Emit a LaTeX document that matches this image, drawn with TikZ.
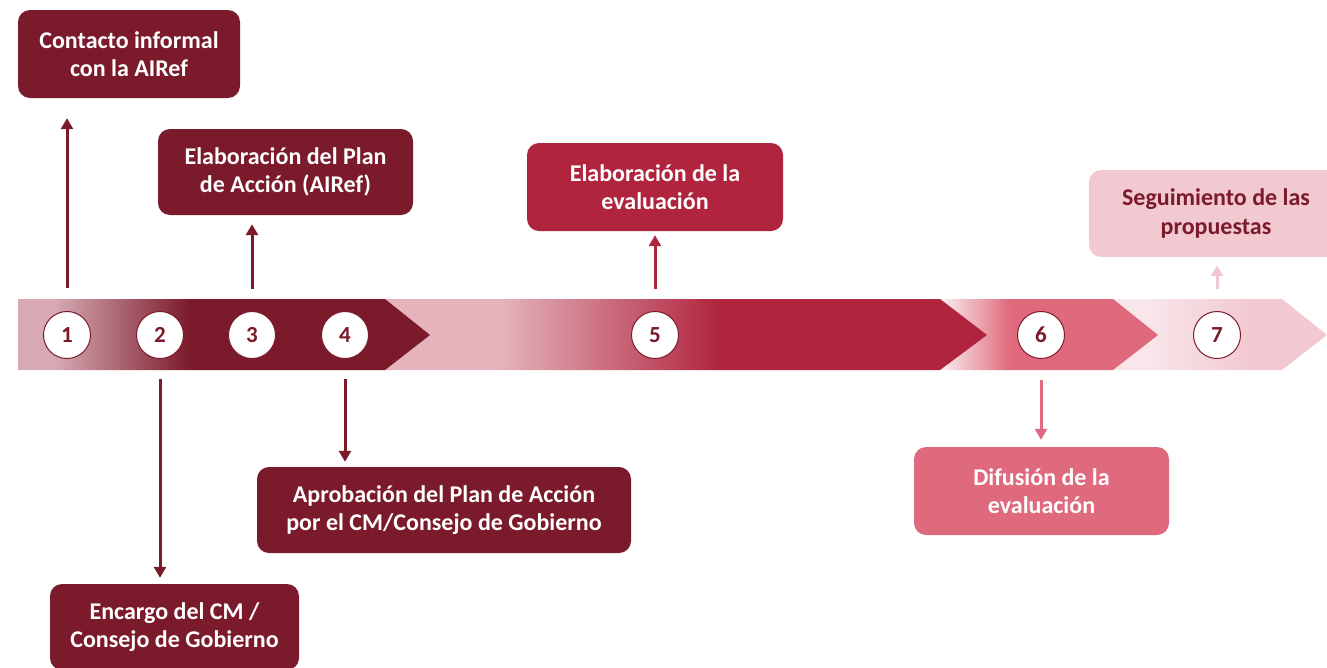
\documentclass[tikz,border=0pt]{standalone}
\usepackage{fontspec}
\setmainfont{Carlito}
\usetikzlibrary{arrows.meta}
\definecolor{dark}{HTML}{7B1A2B}
\definecolor{crim}{HTML}{B0243E}
\definecolor{rose}{HTML}{DF6A7D}
\definecolor{blush}{HTML}{F2C9D1}
\definecolor{pale1}{HTML}{D6A9B3}
\definecolor{pale2}{HTML}{E4B3BC}
\definecolor{pale4}{HTML}{F8E6EA}
\pgfdeclarehorizontalshading{segone}{100bp}{color(0bp)=(pale1); color(29.5bp)=(pale1); color(45.9bp)=(dark); color(100bp)=(dark)}
\pgfdeclarehorizontalshading{segtwo}{100bp}{color(0bp)=(pale2); color(34.9bp)=(pale2); color(53bp)=(crim); color(100bp)=(crim)}
\pgfdeclarehorizontalshading{segthree}{100bp}{color(0bp)=(pale4); color(27.2bp)=(pale4); color(41.8bp)=(rose); color(100bp)=(rose)}
\pgfdeclarehorizontalshading{segfour}{100bp}{color(0bp)=(pale4); color(34.2bp)=(pale4); color(57.3bp)=(blush); color(100bp)=(blush)}
\begin{document}
\begin{tikzpicture}[x=1pt,y=-1pt,
  num/.style={circle, fill=white, draw=dark, line width=1pt, minimum size=47pt, inner sep=0pt,
    text=dark, font=\fontsize{23}{26}\selectfont\bfseries},
  box/.style={rounded corners=12pt, align=center, inner sep=0pt,
    font=\fontsize{24}{28.5}\selectfont\bfseries},
  arr/.style={line width=3pt, -{Triangle[width=12pt,length=11pt]}}
]
\useasboundingbox (0,0) rectangle (1327,667);
\clip (0,0) rectangle (1327,667);
% band segments, back to front
\shade[shading=segfour] (1110,299) -- (1282,299) -- (1327,335) -- (1282,370) -- (1110,370) -- cycle;
\shade[shading=segthree] (935,299) -- (1113,299) -- (1158,335) -- (1113,370) -- (935,370) -- cycle;
\shade[shading=segtwo] (380,299) -- (940,299) -- (987,335) -- (940,370) -- (380,370) -- cycle;
\shade[shading=segone] (18,299) -- (385,299) -- (430,335) -- (385,370) -- (18,370) -- cycle;

% circles
\node[num] (c1) at (67,335) {1};
\node[num] (c2) at (160,335) {2};
\node[num] (c3) at (252,335) {3};
\node[num] (c4) at (345,335) {4};
\node[num] (c5) at (655,335) {5};
\node[num] (c6) at (1041,335) {6};
\node[num] (c7) at (1217,335) {7};

% boxes
\node[box, fill=dark, text=white, minimum width=222pt, minimum height=88pt] (b1) at (129,54)
  {Contacto informal\\con la AIRef};
\node[box, fill=dark, text=white, minimum width=255pt, minimum height=86pt] (b2) at (285.5,172)
  {Elaboración del Plan\\de Acción (AIRef)};
\node[box, fill=crim, text=white, minimum width=256pt, minimum height=88pt] (b3) at (655,187)
  {Elaboración de la\\evaluación};
\node[box, fill=blush, text=dark, minimum width=254pt, minimum height=87pt] (b4) at (1216,213.5)
  {Seguimiento de las\\propuestas};
\node[box, fill=dark, text=white, minimum width=249pt, minimum height=86pt] (b5) at (174.5,627)
  {Encargo del CM /\\Consejo de Gobierno};
\node[box, fill=dark, text=white, minimum width=374pt, minimum height=86pt] (b6) at (444,510)
  {Aprobación del Plan de Acción\\por el CM/Consejo de Gobierno};
\node[box, fill=rose, text=white, minimum width=255pt, minimum height=88pt] (b7) at (1041.5,491)
  {Difusión de la\\evaluación};

% arrows
\draw[arr, dark, shorten <=23pt, shorten >=20pt] (c1.north) -- (c1.north |- b1.south);
\draw[arr, dark, shorten <=22pt, shorten >=9pt] (c3.north) -- (c3.north |- b2.south);
\draw[arr, crim, shorten <=22pt, shorten >=4pt] (c5.north) -- (c5.north |- b3.south);
\draw[arr, blush, shorten <=22pt, shorten >=8pt] (c7.north) -- (c7.north |- b4.south);
\draw[arr, dark, shorten <=20pt, shorten >=6pt] (c2.south) -- (c2.south |- b5.north);
\draw[arr, dark, shorten <=20pt, shorten >=5pt] (c4.south) -- (c4.south |- b6.north);
\draw[arr, rose, shorten <=21pt, shorten >=7pt] (c6.south) -- (c6.south |- b7.north);
\end{tikzpicture}
\end{document}
